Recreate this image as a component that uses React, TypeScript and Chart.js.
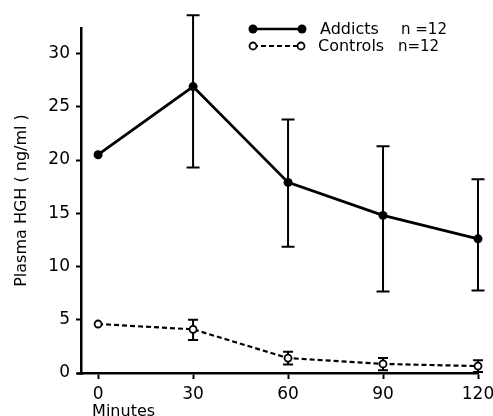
import { useEffect, useRef } from 'react';
import { Chart, registerables } from 'chart.js';
Chart.register(...registerables);

const minutes = [0, 30, 60, 90, 120];
const addictsMean = [20.5, 26.9, 17.9, 14.8, 12.6];
const addictsUpper = [null, 33.6, 23.8, 21.3, 18.2];
const addictsLower = [null, 19.3, 11.85, 7.65, 7.75];
const controlsMean = [4.6, 4.1, 1.4, 0.85, 0.65];
const controlsUpper = [null, 5.0, 2.0, 1.4, 1.2];
const controlsLower = [null, 3.1, 0.8, 0.25, 0.1];
const xTicks = [0, 30, 60, 90, 120];
const yTicks = [0, 5, 10, 15, 20, 25, 30];
const seriesNames = ['Addicts', 'Controls'];
const seriesN = ['n =12', 'n=12'];
const yTitle = 'Plasma HGH ( ng/ml )';
const xTitle = 'Minutes';

const FONT = '"DejaVu Sans", sans-serif';

export default function App() {
  const ref = useRef<HTMLCanvasElement | null>(null);
  useEffect(() => {
    document.body.style.margin = '0';
    const canvas = ref.current!;
    const errBars = [
      { up: addictsUpper, lo: addictsLower, cap: 6.5, w: 2 },
      { up: controlsUpper, lo: controlsLower, cap: 5, w: 2 },
    ];
    const errorPlugin = {
      id: 'errorBars',
      beforeDatasetsDraw(chart: any) {
        const ctx = chart.ctx;
        const xs = chart.scales.x;
        const ys = chart.scales.y;
        ctx.save();
        ctx.strokeStyle = '#000';
        errBars.forEach((eb) => {
          ctx.lineWidth = eb.w;
          minutes.forEach((m, i) => {
            const u = eb.up[i];
            const l = eb.lo[i];
            if (u == null || l == null) return;
            const x = xs.getPixelForValue(m);
            const yu = ys.getPixelForValue(u);
            const yl = ys.getPixelForValue(l);
            ctx.beginPath();
            ctx.moveTo(x, yu);
            ctx.lineTo(x, yl);
            ctx.moveTo(x - eb.cap, yu);
            ctx.lineTo(x + eb.cap, yu);
            ctx.moveTo(x - eb.cap, yl);
            ctx.lineTo(x + eb.cap, yl);
            ctx.stroke();
          });
        });
        ctx.restore();
      },
    };
    const extrasPlugin = {
      id: 'extras',
      afterDraw(chart: any) {
        const ctx = chart.ctx;
        const xs = chart.scales.x;
        ctx.save();
        ctx.fillStyle = '#000';
        ctx.strokeStyle = '#000';
        // x axis overhang to the left of the y axis
        ctx.lineWidth = 2.5;
        ctx.beginPath();
        ctx.moveTo(chart.chartArea.left - 4, chart.chartArea.bottom + 0.5);
        ctx.lineTo(chart.chartArea.left + 2, chart.chartArea.bottom + 0.5);
        ctx.stroke();
        // legend
        const rows = [
          { y: 29, x1: 253, x2: 302, dash: [] as number[], lw: 2.5, filled: true, r: 4.5, tx: 320, nx: 401 },
          { y: 46, x1: 253, x2: 301, dash: [5, 3], lw: 2, filled: false, r: 3.5, tx: 318, nx: 398 },
        ];
        rows.forEach((r, i) => {
          ctx.lineWidth = r.lw;
          ctx.setLineDash(r.dash);
          ctx.beginPath();
          ctx.moveTo(r.x1, r.y);
          ctx.lineTo(r.x2, r.y);
          ctx.stroke();
          ctx.setLineDash([]);
          [r.x1, r.x2].forEach((cx) => {
            ctx.beginPath();
            ctx.arc(cx, r.y, r.r, 0, Math.PI * 2);
            if (r.filled) {
              ctx.fill();
            } else {
              ctx.fillStyle = '#fff';
              ctx.fill();
              ctx.fillStyle = '#000';
              ctx.lineWidth = 1.8;
              ctx.stroke();
            }
          });
          ctx.font = '16px ' + FONT;
          ctx.textBaseline = 'middle';
          ctx.textAlign = 'left';
          ctx.fillText(seriesNames[i], r.tx, r.y + 1);
          ctx.font = '15px ' + FONT;
          ctx.fillText(seriesN[i], r.nx, r.y + 1);
        });
        // x title
        ctx.font = '16px ' + FONT;
        ctx.textBaseline = 'alphabetic';
        ctx.textAlign = 'left';
        ctx.fillText(xTitle, xs.getPixelForValue(0) - 6, 416);
        ctx.restore();
      },
    };
    const chart = new Chart(canvas, {
      type: 'scatter',
      data: {
        datasets: [
          {
            label: seriesNames[0],
            data: minutes.map((m, i) => ({ x: m, y: addictsMean[i] })),
            showLine: true,
            borderColor: '#000',
            backgroundColor: '#000',
            borderWidth: 2.8,
            pointRadius: 4.5,
            pointBackgroundColor: '#000',
            pointBorderWidth: 0,
            clip: false,
          },
          {
            label: seriesNames[1],
            data: minutes.map((m, i) => ({ x: m, y: controlsMean[i] })),
            showLine: true,
            borderColor: '#000',
            backgroundColor: '#fff',
            borderWidth: 2.2,
            borderDash: [5, 3],
            pointRadius: 3.5,
            pointBackgroundColor: '#fff',
            pointBorderColor: '#000',
            pointBorderWidth: 1.8,
            clip: false,
          },
        ],
      },
      options: {
        animation: false,
        responsive: false,
        events: [],
        layout: { padding: { top: 28, right: 15, left: 0, bottom: 0 } },
        plugins: { legend: { display: false }, tooltip: { enabled: false } },
        scales: {
          x: {
            type: 'linear',
            min: -5.4,
            max: 120,
            afterBuildTicks: (s: any) => {
              s.ticks = xTicks.map((v) => ({ value: v }));
            },
            afterFit: (s: any) => {
              s.height = 43;
              s.paddingLeft = 0;
              s.paddingRight = 0;
            },
            border: { display: true, color: '#000', width: 2.5 },
            grid: { drawOnChartArea: false, drawTicks: true, tickLength: 6, tickWidth: 2, tickColor: '#000' },
            ticks: { color: '#000', font: { family: FONT, size: 17 }, padding: 5, maxRotation: 0 },
          },
          y: {
            type: 'linear',
            min: 0,
            max: 32.4,
            afterBuildTicks: (s: any) => {
              s.ticks = yTicks.map((v) => ({ value: v }));
            },
            afterFit: (s: any) => {
              s.width = 81;
            },
            border: { display: true, color: '#000', width: 2.5 },
            grid: { drawOnChartArea: false, drawTicks: true, tickLength: 5, tickWidth: 2, tickColor: '#000' },
            ticks: { color: '#000', font: { family: FONT, size: 17 }, padding: 6 },
            title: {
              display: true,
              text: yTitle,
              color: '#000',
              font: { family: FONT, size: 16 },
              padding: { top: 12, bottom: 0 },
            },
          },
        },
      },
      plugins: [errorPlugin, extrasPlugin],
    });
    return () => chart.destroy();
  }, []);
  return <canvas ref={ref} width={493} height={416} style={{ display: 'block' }} />;
}
